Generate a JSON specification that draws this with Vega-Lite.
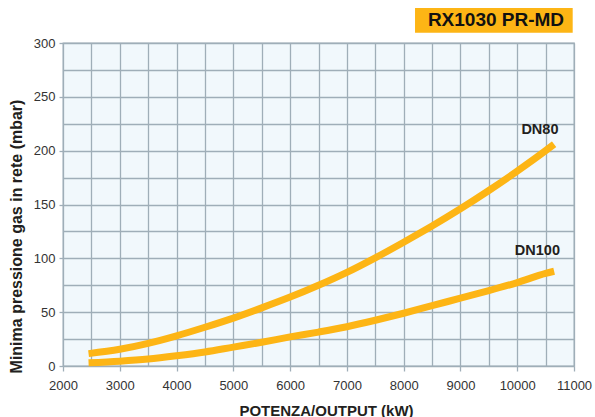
{
  "$schema": "https://vega.github.io/schema/vega-lite/v6.json",
  "width": 511,
  "height": 323,
  "autosize": {"type": "none"},
  "padding": {"left": 63, "top": 43, "right": 21, "bottom": 51},
  "background": "white",
  "config": {
    "font": "Liberation Sans",
    "view": {"fill": "#F1F8FC", "stroke": "#9FAEB8", "strokeWidth": 1.3}
  },
  "datasets": {
    "curves": [
      {"series": "DN80", "x": 2450, "y": 11.5},
      {"series": "DN80", "x": 3000, "y": 15.5},
      {"series": "DN80", "x": 3500, "y": 21},
      {"series": "DN80", "x": 4000, "y": 28},
      {"series": "DN80", "x": 4500, "y": 36},
      {"series": "DN80", "x": 5000, "y": 44.5},
      {"series": "DN80", "x": 5500, "y": 54},
      {"series": "DN80", "x": 6000, "y": 64},
      {"series": "DN80", "x": 6500, "y": 75},
      {"series": "DN80", "x": 7000, "y": 87},
      {"series": "DN80", "x": 7500, "y": 100.5},
      {"series": "DN80", "x": 8000, "y": 115},
      {"series": "DN80", "x": 8500, "y": 130},
      {"series": "DN80", "x": 9000, "y": 146},
      {"series": "DN80", "x": 9500, "y": 163},
      {"series": "DN80", "x": 10000, "y": 181},
      {"series": "DN80", "x": 10500, "y": 200},
      {"series": "DN80", "x": 10650, "y": 206},
      {"series": "DN100", "x": 2450, "y": 3},
      {"series": "DN100", "x": 3000, "y": 4.5},
      {"series": "DN100", "x": 3500, "y": 6.5},
      {"series": "DN100", "x": 4000, "y": 9.5},
      {"series": "DN100", "x": 4500, "y": 13},
      {"series": "DN100", "x": 5000, "y": 17.5},
      {"series": "DN100", "x": 5500, "y": 22},
      {"series": "DN100", "x": 6000, "y": 27},
      {"series": "DN100", "x": 6500, "y": 31.5},
      {"series": "DN100", "x": 7000, "y": 36.5},
      {"series": "DN100", "x": 7500, "y": 42.5},
      {"series": "DN100", "x": 8000, "y": 49},
      {"series": "DN100", "x": 8500, "y": 56},
      {"series": "DN100", "x": 9000, "y": 63},
      {"series": "DN100", "x": 9500, "y": 70},
      {"series": "DN100", "x": 10000, "y": 77.5},
      {"series": "DN100", "x": 10500, "y": 86},
      {"series": "DN100", "x": 10650, "y": 88}
    ],
    "labels": [
      {"label": "DN80", "x": 10400, "y": 219},
      {"label": "DN100", "x": 10355, "y": 107}
    ],
    "badge": [
      {"x": 8200, "x2": 10977, "y": 309.6, "y2": 332.5, "xm": 9626, "ym": 321.4, "text": "RX1030 PR-MD"}
    ]
  },
  "encoding": {
    "x": {
      "field": "x",
      "type": "quantitative",
      "scale": {"domain": [2000, 11000], "nice": false, "zero": false},
      "axis": {
        "title": "POTENZA/OUTPUT (kW)",
        "values": [2000, 2500, 3000, 3500, 4000, 4500, 5000, 5500, 6000, 6500, 7000, 7500, 8000, 8500, 9000, 9500, 10000, 10500, 11000],
        "format": "d",
        "labelExpr": "datum.value % 1000 == 0 ? datum.label : ''",
        "labelOverlap": false,
        "labelFlush": false,
        "labelFont": "Liberation Sans",
        "labelFontSize": 13,
        "labelColor": "#333333",
        "labelPadding": 8,
        "tickSize": 5,
        "tickColor": "#9FAEB8",
        "tickWidth": 1.3,
        "tickOpacity": {"condition": {"test": "datum.value % 1000 == 0", "value": 1}, "value": 0},
        "domain": false,
        "grid": true,
        "gridColor": "#9FAEB8",
        "gridWidth": 1.3,
        "gridOpacity": 1,
        "titleFont": "Liberation Sans",
        "titleFontSize": 15,
        "titleFontWeight": "bold",
        "titleColor": "#231F20",
        "titleX": 263,
        "titleY": 49,
        "titleAlign": "center",
        "titleBaseline": "alphabetic"
      }
    },
    "y": {
      "field": "y",
      "type": "quantitative",
      "scale": {"domain": [0, 300], "nice": false, "zero": false},
      "axis": {
        "title": "Minima pressione gas in rete (mbar)",
        "values": [0, 25, 50, 75, 100, 125, 150, 175, 200, 225, 250, 275, 300],
        "format": "d",
        "labelExpr": "datum.value % 50 == 0 ? datum.label : ''",
        "labelOverlap": false,
        "labelFlush": false,
        "labelFont": "Liberation Sans",
        "labelFontSize": 13,
        "labelColor": "#333333",
        "labelPadding": 4,
        "tickSize": 4,
        "tickColor": "#9FAEB8",
        "tickWidth": 1.3,
        "tickOpacity": {"condition": {"test": "datum.value % 50 == 0", "value": 1}, "value": 0},
        "domain": false,
        "grid": true,
        "gridColor": "#9FAEB8",
        "gridWidth": 1.3,
        "gridOpacity": 1,
        "titleFont": "Liberation Sans",
        "titleFontSize": 16,
        "titleFontWeight": "bold",
        "titleColor": "#231F20",
        "titleAngle": -90,
        "titleX": -42,
        "titleY": 193,
        "titleAlign": "center",
        "titleBaseline": "alphabetic"
      }
    }
  },
  "layer": [
    {
      "data": {"name": "curves"},
      "mark": {"type": "line", "strokeWidth": 7, "strokeCap": "butt", "interpolate": "monotone", "color": "#FDB515"},
      "encoding": {"detail": {"field": "series", "type": "nominal"}}
    },
    {
      "data": {"name": "labels"},
      "mark": {"type": "text", "font": "Liberation Sans", "fontWeight": "bold", "fontSize": 14.5, "color": "#231F20", "align": "center", "baseline": "middle"},
      "encoding": {"text": {"field": "label", "type": "nominal"}}
    },
    {
      "data": {"name": "badge"},
      "mark": {"type": "rect", "color": "#FDB515", "opacity": 1},
      "encoding": {"x2": {"field": "x2"}, "y2": {"field": "y2"}}
    },
    {
      "data": {"name": "badge"},
      "mark": {"type": "text", "font": "Liberation Sans", "fontWeight": "bold", "fontSize": 19, "color": "#111111", "align": "center", "baseline": "middle"},
      "encoding": {
        "x": {"field": "xm", "type": "quantitative"},
        "y": {"field": "ym", "type": "quantitative"},
        "text": {"field": "text", "type": "nominal"}
      }
    }
  ]
}
